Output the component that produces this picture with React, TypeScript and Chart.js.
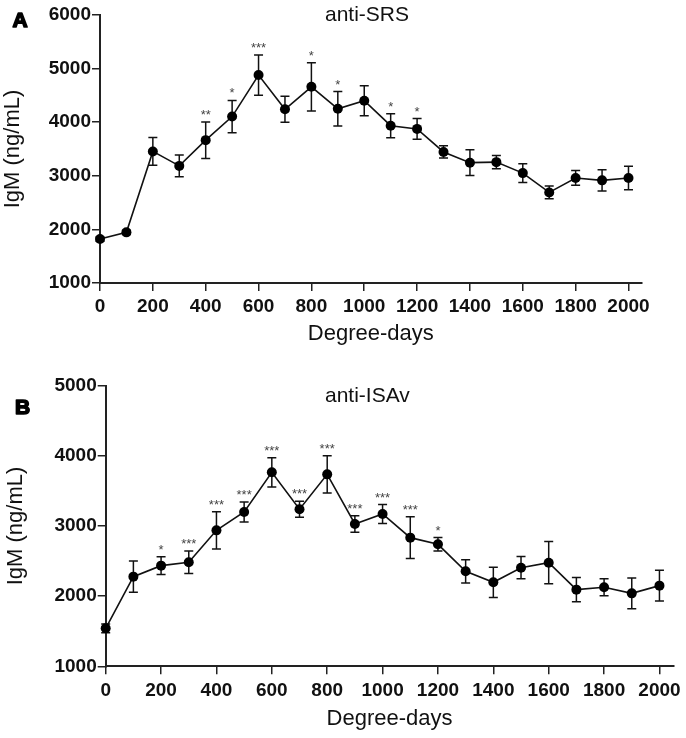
import React, { useEffect, useRef } from 'react';
import { Chart, registerables } from 'chart.js';

Chart.register(...registerables);
Chart.defaults.font.family = "'Liberation Sans', Arial, sans-serif";
Chart.defaults.color = '#111';

// ---------- data ----------
const degreeDays = [0, 100, 200, 300, 400, 500, 600, 700, 800, 900, 1000, 1100, 1200, 1300, 1400, 1500, 1600, 1700, 1800, 1900, 2000];
const xTickValues = [0, 200, 400, 600, 800, 1000, 1200, 1400, 1600, 1800, 2000];

const srsMean = [1820, 1945, 3455, 3185, 3665, 4105, 4880, 4240, 4660, 4250, 4400, 3935, 3875, 3445, 3245, 3255, 3050, 2690, 2960, 2915, 2960];
const srsErr = [40, 40, 258, 205, 340, 300, 375, 243, 450, 322, 280, 224, 193, 115, 240, 125, 174, 118, 137, 199, 220];
const srsStars = ['', '', '', '', '**', '*', '***', '', '*', '*', '', '*', '*', '', '', '', '', '', '', '', ''];
const srsYTicks = [1000, 2000, 3000, 4000, 5000, 6000];

const isavMean = [1542, 2278, 2435, 2482, 2938, 3200, 3765, 3238, 3736, 3029, 3171, 2834, 2739, 2354, 2197, 2406, 2477, 2093, 2126, 2040, 2150];
const isavErr = [62, 223, 128, 160, 266, 142, 209, 114, 266, 117, 135, 297, 97, 166, 216, 159, 302, 173, 121, 218, 218];
const isavStars = ['', '', '*', '***', '***', '***', '***', '***', '***', '***', '***', '***', '*', '', '', '', '', '', '', '', ''];
const isavYTicks = [1000, 2000, 3000, 4000, 5000];

const xTitle = 'Degree-days';
const yTitle = 'IgM (ng/mL)';

interface PanelSpec {
  width: number;
  height: number;
  left: number;
  right: number;
  top: number;
  bottom: number;
  xMax: number;
  yMin: number;
  yMax: number;
  yTicks: number[];
  mean: number[];
  err: number[];
  stars: string[];
  title: string;
  letter: string;
  titleX: number;
  titleY: number;
  letterX: number;
  letterY: number;
  xTitlePad: number;
  yTitlePad: number;
  xTickPad: number;
}

function makeConfig(p: PanelSpec): any {
  const overlay = {
    id: 'overlay_' + p.letter,
    beforeDatasetsDraw(chart: any) {
      const { ctx } = chart;
      const xs = chart.scales.x;
      const ys = chart.scales.y;
      ctx.save();
      ctx.strokeStyle = '#111';
      ctx.lineWidth = 1.5;
      degreeDays.forEach((d, i) => {
        const px = xs.getPixelForValue(d);
        const t = ys.getPixelForValue(p.mean[i] + p.err[i]);
        const b = ys.getPixelForValue(p.mean[i] - p.err[i]);
        ctx.beginPath();
        ctx.moveTo(px, t);
        ctx.lineTo(px, b);
        ctx.moveTo(px - 4.5, t);
        ctx.lineTo(px + 4.5, t);
        ctx.moveTo(px - 4.5, b);
        ctx.lineTo(px + 4.5, b);
        ctx.stroke();
      });
      ctx.restore();
    },
    afterDraw(chart: any) {
      const { ctx } = chart;
      const xs = chart.scales.x;
      const ys = chart.scales.y;
      ctx.save();
      // significance stars
      ctx.fillStyle = '#444';
      ctx.font = "13px 'Liberation Sans', Arial, sans-serif";
      ctx.textAlign = 'center';
      ctx.textBaseline = 'alphabetic';
      degreeDays.forEach((d, i) => {
        if (!p.stars[i]) return;
        const px = xs.getPixelForValue(d);
        const t = ys.getPixelForValue(p.mean[i] + p.err[i]);
        ctx.fillText(p.stars[i], px, t - 3);
      });
      // panel title
      ctx.fillStyle = '#111';
      ctx.font = "21px 'Liberation Sans', Arial, sans-serif";
      ctx.textAlign = 'left';
      ctx.fillText(p.title, p.titleX, p.titleY);
      // panel letter
      ctx.font = "bold 21px 'Liberation Sans', Arial, sans-serif";
      ctx.lineWidth = 1.6;
      ctx.lineJoin = 'round';
      ctx.strokeStyle = '#000';
      ctx.fillStyle = '#000';
      ctx.fillText(p.letter, p.letterX, p.letterY);
      ctx.strokeText(p.letter, p.letterX, p.letterY);
      ctx.restore();
    },
  };

  const plainLabel = (v: any) => String(v);

  return {
    type: 'line',
    data: {
      datasets: [
        {
          data: degreeDays.map((d, i) => ({ x: d, y: p.mean[i] })),
          borderColor: '#111',
          borderWidth: 1.6,
          pointRadius: 5,
          pointHoverRadius: 5,
          pointBackgroundColor: '#000',
          pointBorderColor: '#000',
          pointBorderWidth: 0,
          tension: 0,
          clip: false,
        },
      ],
    },
    options: {
      responsive: false,
      animation: false,
      devicePixelRatio: 1,
      layout: {
        padding: { left: 0, top: p.top, right: p.width - p.right, bottom: 0 },
      },
      plugins: {
        legend: { display: false },
        tooltip: { enabled: false },
        title: { display: false },
      },
      scales: {
        x: {
          type: 'linear',
          min: 0,
          max: p.xMax,
          afterBuildTicks: (axis: any) => {
            axis.ticks = xTickValues.map((v) => ({ value: v }));
          },
          afterFit: (axis: any) => {
            axis.height = p.height - p.bottom;
          },
          ticks: {
            autoSkip: false,
            maxRotation: 0,
            padding: p.xTickPad,
            color: '#111',
            font: { size: 19, weight: 'bold' },
            callback: plainLabel,
          },
          grid: {
            drawOnChartArea: false,
            drawTicks: true,
            tickLength: 8,
            color: '#222',
            lineWidth: 1.5,
          },
          border: { display: true, color: '#222', width: 2 },
          title: {
            display: true,
            text: xTitle,
            color: '#111',
            font: { size: 22 },
            padding: { top: 0, bottom: p.xTitlePad },
          },
        },
        y: {
          type: 'linear',
          min: p.yMin,
          max: p.yMax,
          afterBuildTicks: (axis: any) => {
            axis.ticks = p.yTicks.map((v) => ({ value: v }));
          },
          afterFit: (axis: any) => {
            axis.width = p.left;
          },
          ticks: {
            autoSkip: false,
            padding: 1,
            color: '#111',
            font: { size: 19, weight: 'bold' },
            callback: plainLabel,
          },
          grid: {
            drawOnChartArea: false,
            drawTicks: true,
            tickLength: 8,
            color: '#222',
            lineWidth: 1.5,
          },
          border: { display: true, color: '#222', width: 2 },
          title: {
            display: true,
            text: yTitle,
            color: '#111',
            font: { size: 22 },
            padding: { top: p.yTitlePad, bottom: 0 },
          },
        },
      },
    },
    plugins: [overlay],
  };
}

const panelA: PanelSpec = {
  width: 686, height: 365,
  left: 100, right: 641.7, top: 15, bottom: 283,
  xMax: 2050, yMin: 1000, yMax: 6000, yTicks: srsYTicks,
  mean: srsMean, err: srsErr, stars: srsStars,
  title: 'anti-SRS', letter: 'A',
  titleX: 325, titleY: 21, letterX: 12.5, letterY: 27,
  xTitlePad: 17.5, yTitlePad: 0, xTickPad: 4,
};

const panelB: PanelSpec = {
  width: 686, height: 373,
  left: 105.7, right: 673.3, top: 20.7, bottom: 301.3,
  xMax: 2050, yMin: 1000, yMax: 5000, yTicks: isavYTicks,
  mean: isavMean, err: isavErr, stars: isavStars,
  title: 'anti-ISAv', letter: 'B',
  titleX: 325, titleY: 37, letterX: 15, letterY: 49,
  xTitlePad: 5.5, yTitlePad: 3, xTickPad: 5,
};

function Panel({ spec }: { spec: PanelSpec }) {
  const ref = useRef<HTMLCanvasElement | null>(null);
  useEffect(() => {
    if (!ref.current) return;
    const chart = new Chart(ref.current, makeConfig(spec));
    return () => chart.destroy();
  }, [spec]);
  return (
    <canvas
      ref={ref}
      width={spec.width}
      height={spec.height}
      style={{ display: 'block', width: spec.width, height: spec.height }}
    />
  );
}

export default function App() {
  return (
    <div style={{ position: 'absolute', left: 0, top: 0, width: 686, height: 738, background: '#fff' }}>
      <Panel spec={panelA} />
      <Panel spec={panelB} />
    </div>
  );
}
